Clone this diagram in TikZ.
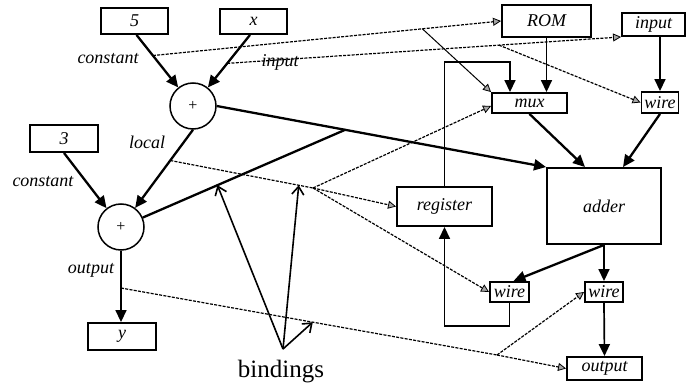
\documentclass[tikz,border=0pt]{standalone}
\usepackage{fontspec}
\setmainfont{Liberation Serif}
\usetikzlibrary{arrows.meta,calc}

\begin{document}
\begin{tikzpicture}[x=1pt,y=-1pt,
  box/.style={draw,line width=1.9pt,inner sep=0pt,font=\fontsize{18}{20}\selectfont\itshape},
  opnode/.style={draw,circle,line width=1.5pt,minimum size=46pt,inner sep=0pt,font=\fontsize{16}{18}\selectfont},
  flow/.style={line width=2.3pt,-{Triangle[length=12pt,width=11pt]}},
  wiring/.style={line width=1.7pt,-{Triangle[length=12pt,width=11pt]}},
  bind/.style={line width=1.2pt,dash pattern=on 3pt off 1.3pt},
  bindtip/.style={-{Triangle[length=8pt,width=8pt,fill=gray!70,line width=0.8pt]}},
  lbl/.style={font=\fontsize{18}{20}\selectfont\itshape,inner sep=0pt},
  pointer/.style={line width=1.6pt,-{Straight Barb[length=8pt,width=12pt]}},
]
\useasboundingbox (0,0) rectangle (691,390);

% dataflow graph: operands, operations, result
\node[box,minimum width=67pt,minimum height=26pt] (n5) at (134.5,21) {5};
\node[box,minimum width=67pt,minimum height=25pt] (nx) at (253.5,21.5) {x};
\node[box,minimum width=68pt,minimum height=27pt] (n3) at (64,138.5) {3};
\node[box,minimum width=68pt,minimum height=27pt] (ny) at (122,336.5) {y};
\node[opnode] (p1) at (193,106) {+};
\node[opnode] (p2) at (121,227) {+};

% hardware units
\node[box,minimum width=89pt,minimum height=32pt] (rom) at (546.5,21) {ROM};
\node[box,minimum width=63pt,minimum height=23pt] (inp) at (653.5,24.5) {input};
\node[box,minimum width=75pt,minimum height=20pt] (mux) at (529.5,103) {mux};
\node[box,minimum width=37pt,minimum height=21pt] (wa) at (660,102.5) {wire};
\node[box,minimum width=114pt,minimum height=76pt] (adder) at (604,206) {adder};
\node[box,minimum width=95pt,minimum height=39pt] (reg) at (444.5,206.5) {register};
\node[box,minimum width=39pt,minimum height=20pt] (wb) at (509.5,292) {wire};
\node[box,minimum width=38pt,minimum height=20pt] (wc) at (604,292) {wire};
\node[box,minimum width=75pt,minimum height=23pt] (outp) at (604.5,368.5) {output};

% edge labels
\node[lbl] (lc1) at (108,59) {constant};
\node[lbl] (li) at (280,62) {input};
\node[lbl] (ll) at (147,142) {local};
\node[lbl] (lc2) at (43,182) {constant};
\node[lbl] (lo) at (91,270) {output};

% dataflow edges
\coordinate (s5) at ([xshift=2pt]n5.south);
\coordinate (sx) at ([xshift=-3.5pt]nx.south);
\draw[flow] (s5) -- (p1);
\draw[flow] (sx) -- (p1);
\draw[flow] (n3.south) -- (p2);
\draw[flow] (p1.south) -- (p2);
\draw[wiring] (p2.south) -- (p2.south |- ny.north);

% both additions are bound to the adder
\draw[flow] (p1.east) -- (adder.north west);
\coordinate (m1) at ($(p1.east)!0.39!(adder.north west)$);
\draw[line width=2.3pt] (p2) -- (m1);

% hardware connections
\draw[wiring] (rom.south) -- (rom.south |- mux.north);
\draw[wiring] (reg.north) -- (reg.north |- 0,62) -| ([xshift=-19.5pt]mux.north);
\draw[wiring] (wa.north |- inp.south) -- (wa.north);
\draw[flow] (mux.south) -- ([xshift=-19pt]adder.north);
\draw[flow] (wa.south) -- ([xshift=19pt]adder.north);
\draw[flow] (adder.south) -- ([xshift=4pt]wb.north);
\draw[wiring] (adder.south) -- (wc.north);
\draw[wiring] (wc.south) -- (outp.north);
\draw[wiring] (wb.south) -- (wb.south |- 0,326) -| (reg.south);

% binding of the constant
\coordinate (c1) at ($(s5)!0.29!(p1.center)$);
\draw[bind,bindtip] (c1) -- (rom.west);
\coordinate (b1) at ($(c1)!0.774!(rom.west)$);
\draw[line width=1pt,bindtip] (b1) -- (mux.north west);

% binding of the input
\coordinate (c2) at ($(sx)!0.4!(p1.center)$);
\draw[bind,bindtip] (c2) -- (inp.south west);
\coordinate (b2) at ($(c2)!0.69!(inp.south west)$);
\draw[bind,bindtip] (b2) -- (wa.west);

% binding of the local value
\coordinate (c3) at ($(p1.south)!0.316!(p2.center)$);
\coordinate (b3) at (313,188);
\draw[bind] (c3) -- (b3);
\draw[bind,bindtip] (b3) -- ([yshift=-3pt]mux.west);
\draw[bind,bindtip] (b3) -- (reg.west);
\draw[bind,bindtip] (b3) -- (wb.west);

% binding of the output
\coordinate (c4) at (p2.south |- 0,288);
\coordinate (b4) at (497,355);
\draw[bind] (c4) -- (b4);
\draw[bind,bindtip] (b4) -- (wc.west);
\draw[bind,bindtip] (b4) -- (outp.west);

% caption with pointers
\node[font=\fontsize{25}{28}\selectfont] (bt) at (281,372) {bindings};
\coordinate (v) at (283,349);
\draw[pointer] (v) -- ($(p2)!0.43!(m1)$);
\draw[pointer] (v) -- ($(c3)!0.9!(b3)$);
\draw[pointer] (v) -- ($(c4)!0.51!(b4)$);
\end{tikzpicture}
\end{document}
